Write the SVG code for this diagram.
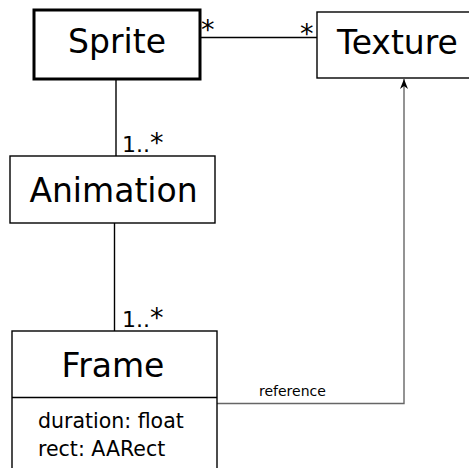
<svg xmlns="http://www.w3.org/2000/svg" width="469" height="468" viewBox="0 0 469 468">
<style>
.box{fill:#fff;stroke:#000;stroke-width:1.4}
.thick{stroke-width:3}
.name{font-family:"DejaVu Sans",sans-serif;font-size:33px;fill:#000;text-anchor:middle}
.attr{font-family:"DejaVu Sans",sans-serif;font-size:20.5px;fill:#000}
.mult{font-family:"DejaVu Sans",sans-serif;font-size:22px;fill:#000}
.star{font-size:27px}
.lbl{font-family:"DejaVu Sans",sans-serif;font-size:14px;fill:#000}
.conn{fill:none;stroke:#000;stroke-width:1.4}
.ref{fill:none;stroke:#666;stroke-width:1.4}
</style>
<defs>
<marker id="arr" markerWidth="12" markerHeight="12" refX="10" refY="5" orient="auto" markerUnits="userSpaceOnUse">
<path d="M0,1 L10,5 L0,9 L3,5 Z" fill="#000"/>
</marker>
</defs>
<rect width="469" height="468" fill="#fff"/>
<g id="connectors">
<line class="conn" x1="200" y1="37.5" x2="317" y2="37.5"/>
<text class="mult star" x="201" y="38.5">*</text>
<text class="mult star" x="300" y="42.5">*</text>
<line class="conn" x1="116" y1="79" x2="116" y2="156"/>
<text class="mult" x="122" y="152">1..<tspan class="star">*</tspan></text>
<line class="conn" x1="114.5" y1="223" x2="114.5" y2="331"/>
<text class="mult" x="122" y="327">1..<tspan class="star">*</tspan></text>
<polyline class="ref" points="217,403.5 404,403.5 404,79" marker-end="url(#arr)"/>
<text class="lbl" x="259" y="396">reference</text>
</g>
<g id="sprite">
<rect class="box thick" x="34" y="10" width="166" height="69"/>
<text class="name" x="117" y="53">Sprite</text>
</g>
<g id="texture">
<rect class="box" x="317" y="12" width="162" height="66"/>
<text class="name" x="397.5" y="54">Texture</text>
</g>
<g id="animation">
<rect class="box" x="10" y="156" width="205" height="67"/>
<text class="name" x="113.5" y="202">Animation</text>
</g>
<g id="frame">
<rect class="box" x="12" y="331" width="205" height="150"/>
<line class="conn" x1="12" y1="397.5" x2="217" y2="397.5"/>
<text class="name" x="113" y="377">Frame</text>
<text class="attr" x="38" y="428">duration: float</text>
<text class="attr" x="38" y="456">rect: AARect</text>
</g>
</svg>
